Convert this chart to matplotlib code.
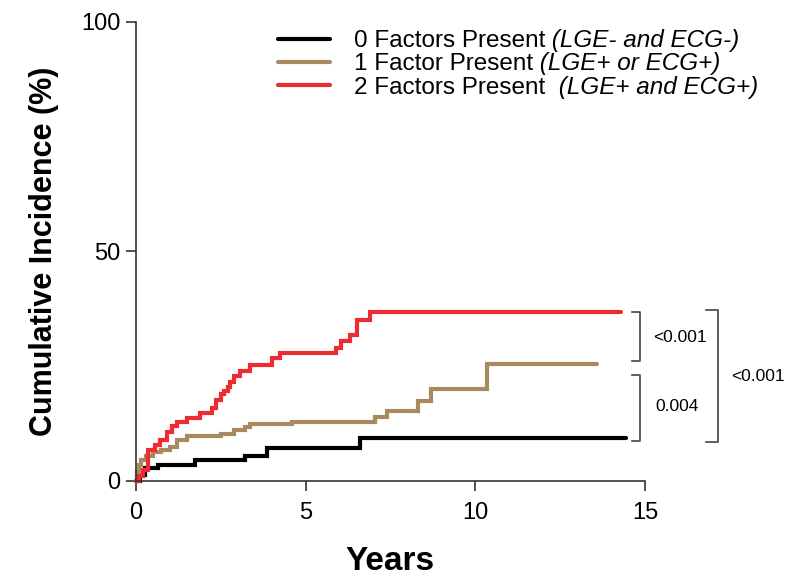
import matplotlib
matplotlib.use("Agg")
import matplotlib.pyplot as plt

plt.rcParams['font.family'] = ['Liberation Sans', 'DejaVu Sans']

# cumulative incidence (%) vs years
black_t = [0, 0.12, 0.27, 0.65, 1.74, 3.2, 3.86, 6.6, 14.45]
black_y = [0, 1.3, 2.8, 3.5, 4.6, 5.4, 7.2, 9.4, 9.4]

brown_t = [0, 0.03, 0.08, 0.15, 0.3, 0.5, 0.75, 1.0, 1.2, 1.5, 2.5, 2.9,
           3.2, 3.36, 4.6, 7.05, 7.4, 8.3, 8.7, 10.35, 13.6]
brown_y = [0, 2.0, 3.5, 4.5, 5.5, 6.3, 6.8, 7.4, 9.0, 9.8, 10.2, 11.1,
           11.8, 12.4, 12.8, 14.0, 15.3, 17.4, 20.0, 25.5, 25.5]

red_t = [0, 0.1, 0.2, 0.35, 0.56, 0.7, 0.9, 1.05, 1.2, 1.5, 1.9, 2.24, 2.35,
         2.5, 2.6, 2.7, 2.77, 2.9, 3.07, 3.36, 4.0, 4.25, 5.9, 6.05, 6.3,
         6.5, 6.9, 14.3]
red_y = [0, 1.0, 2.4, 6.8, 7.8, 9.0, 10.7, 12.0, 12.9, 13.7, 14.8, 15.9, 17.7,
         19.0, 19.7, 20.4, 21.6, 22.8, 24.0, 25.3, 26.8, 27.9, 29.0, 30.6, 31.8,
         35.0, 36.8, 36.8]

labels = ['0 Factors Present', '1 Factor Present', '2 Factors Present ']
label_notes = [' (LGE- and ECG-)', ' (LGE+ or ECG+)', ' (LGE+ and ECG+)']
colors = ['black', '#a88a5e', '#ee2b30']

# p-value brackets: (x left, x right, y top, y bottom, text, text x, text y)
brackets = [
    (14.63, 14.84, 36.8, 26.1, '<0.001', 15.25, 31.3),
    (14.63, 14.84, 23.1, 8.7, '0.004', 15.3, 16.3),
    (16.8, 17.15, 37.3, 8.5, '<0.001', 17.55, 22.8),
]

fig = plt.figure(figsize=(7.86, 5.77), dpi=100)
ax = fig.add_axes([0.173, 0.1664, 0.6476, 0.7955])

series = [(black_t, black_y), (brown_t, brown_y), (red_t, red_y)]
for (t, y), lab, c in zip(series, labels, colors):
    ax.step(t, y, where='post', color=c, lw=3, label=lab,
            solid_capstyle='round', solid_joinstyle='miter', clip_on=False)

ax.set_xlim(0, 15)
ax.set_ylim(0, 100)
ax.set_xticks([0, 5, 10, 15])
ax.set_yticks([0, 50, 100])
for s in ['top', 'right']:
    ax.spines[s].set_visible(False)
for s in ['left', 'bottom']:
    ax.spines[s].set_color('#333333')
    ax.spines[s].set_linewidth(1.2)
ax.tick_params(length=7, width=1.2, color='#333333', labelsize=17)
ax.tick_params(axis='x', pad=8)
ax.tick_params(axis='y', pad=4)

ax.set_xlabel('Years', fontsize=24, fontweight='bold', labelpad=16)
ax.set_ylabel('Cumulative Incidence (%)', fontsize=22, fontweight='bold', labelpad=16)

leg = ax.legend(loc='upper left', bbox_to_anchor=(0.237, 1.03), frameon=False,
                fontsize=17.5, handlelength=2.1, handletextpad=1.0, labelspacing=0.05)
fig.canvas.draw()
for txt, note in zip(leg.get_texts(), label_notes):
    ax.annotate(note, xy=(1, 0), xycoords=txt, va='bottom', ha='left',
                fontsize=17.5, fontstyle='italic', zorder=10)

for x0, x1, yt, yb, txt, tx, ty in brackets:
    ax.plot([x0, x1, x1, x0], [yt, yt, yb, yb], color='#444444', lw=1.2,
            clip_on=False)
    ax.text(tx, ty, txt, fontsize=12.5, va='center', ha='left')

fig.savefig('out.png', dpi=100)
